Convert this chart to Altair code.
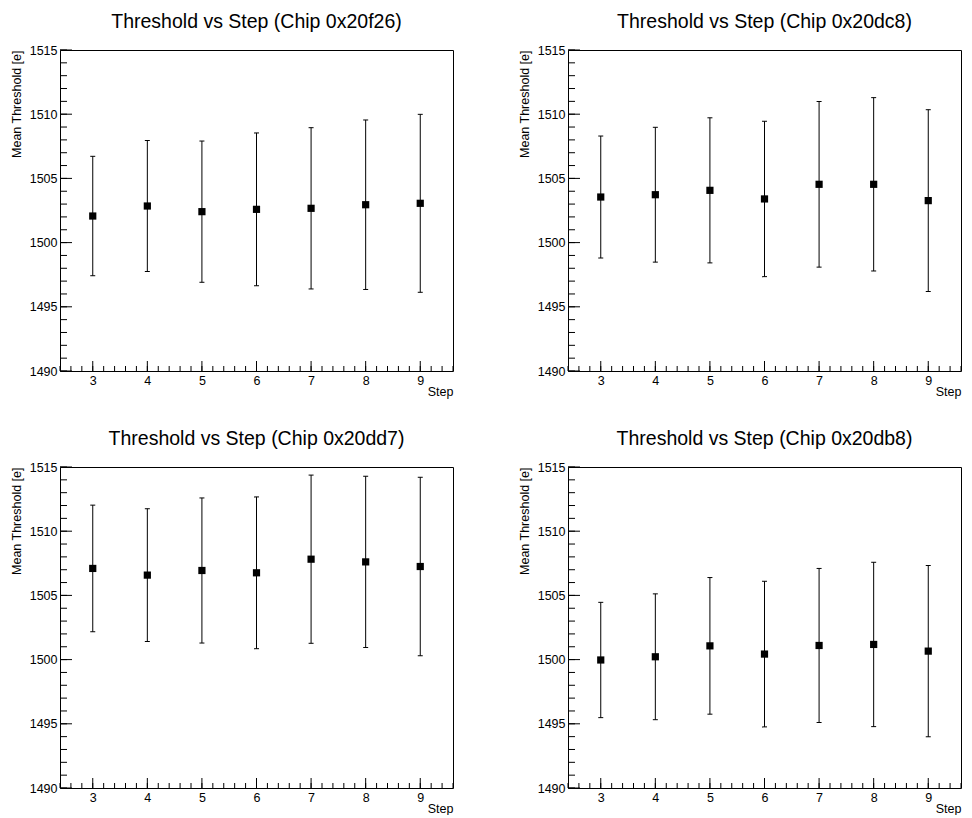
import altair as alt
import pandas as pd

steps = [3, 4, 5, 6, 7, 8, 9]
chips = ["0x20f26", "0x20dc8", "0x20dd7", "0x20db8"]

mean_20f26 = [1502.07, 1502.85, 1502.41, 1502.59, 1502.67, 1502.95, 1503.06]
err_20f26 = [4.65, 5.10, 5.50, 5.95, 6.28, 6.60, 6.93]

mean_20dc8 = [1503.55, 1503.73, 1504.07, 1503.40, 1504.54, 1504.54, 1503.27]
err_20dc8 = [4.75, 5.25, 5.65, 6.05, 6.45, 6.75, 7.08]

mean_20dd7 = [1507.10, 1506.58, 1506.94, 1506.76, 1507.82, 1507.61, 1507.25]
err_20dd7 = [4.93, 5.17, 5.65, 5.91, 6.55, 6.67, 6.95]

mean_20db8 = [1499.97, 1500.22, 1501.07, 1500.43, 1501.10, 1501.18, 1500.66]
err_20db8 = [4.49, 4.90, 5.32, 5.67, 6.00, 6.40, 6.67]

y_major = [1490, 1495, 1500, 1505, 1510, 1515]
y_minor = list(range(1490, 1516))
x_major = steps
x_minor = [round(2.4 + 0.2 * i, 1) for i in range(37)]

FONT = "Liberation Sans"
W, H = 393, 321


def panel(chip, mean, err):
    df = pd.DataFrame({"step": steps, "mean": mean, "err": err})
    df["lo"] = df["mean"] - df["err"]
    df["hi"] = df["mean"] + df["err"]
    xs = alt.Scale(domain=[2.4, 9.6], nice=False, zero=False)
    ys = alt.Scale(domain=[1490, 1515], nice=False, zero=False)

    xaxis = alt.Axis(values=x_major, format="d", title="Step", ticks=False, tickSize=0,
                     domain=False, grid=False, labelFontSize=12.5, labelFont=FONT,
                     labelColor="black", labelPadding=3, titleFont=FONT, titleFontSize=12.5,
                     titleFontWeight="normal", titleColor="black", titleX=W, titleY=24,
                     titleAlign="right", titleBaseline="alphabetic", titleAnchor="end")
    yaxis = alt.Axis(values=y_major, format="d", title="Mean Threshold [e]", ticks=False,
                     tickSize=0, domain=False, grid=False, labelFontSize=12.5, labelFont=FONT,
                     labelColor="black", labelPadding=3, titleFont=FONT, titleFontSize=12.5,
                     titleFontWeight="normal", titleColor="black", titleX=-40, titleY=0,
                     titleAngle=-90, titleAlign="right", titleBaseline="alphabetic")

    base = alt.Chart(df)
    bars = base.mark_rule(color="black", strokeWidth=1).encode(
        x=alt.X("step:Q", scale=xs, axis=xaxis),
        y=alt.Y("lo:Q", scale=ys, axis=yaxis),
        y2="hi:Q",
    )
    cap_lo = base.mark_tick(orient="horizontal", size=5, thickness=1, color="black", opacity=1).encode(
        x=alt.X("step:Q", scale=xs), y=alt.Y("lo:Q", scale=ys))
    cap_hi = base.mark_tick(orient="horizontal", size=5, thickness=1, color="black", opacity=1).encode(
        x=alt.X("step:Q", scale=xs), y=alt.Y("hi:Q", scale=ys))
    pts = base.mark_square(size=52, color="black", opacity=1).encode(
        x=alt.X("step:Q", scale=xs), y=alt.Y("mean:Q", scale=ys))

    ymaj = alt.Chart(pd.DataFrame({"v": y_major})).mark_rule(color="black", strokeWidth=1).encode(
        y=alt.Y("v:Q", scale=ys), x=alt.value(0), x2=alt.value(12))
    ymin = alt.Chart(pd.DataFrame({"v": y_minor})).mark_rule(color="black", strokeWidth=1).encode(
        y=alt.Y("v:Q", scale=ys), x=alt.value(0), x2=alt.value(7))
    xmaj = alt.Chart(pd.DataFrame({"v": x_major})).mark_rule(color="black", strokeWidth=1).encode(
        x=alt.X("v:Q", scale=xs), y=alt.value(H), y2=alt.value(H - 10))
    xmin = alt.Chart(pd.DataFrame({"v": x_minor})).mark_rule(color="black", strokeWidth=1).encode(
        x=alt.X("v:Q", scale=xs), y=alt.value(H), y2=alt.value(H - 5))

    return alt.layer(bars, ymin, ymaj, xmin, xmaj, cap_lo, cap_hi, pts).properties(
        width=W, height=H,
        title=alt.TitleParams(text=f"Threshold vs Step (Chip {chip})", font=FONT, fontSize=19.5,
                              fontWeight="normal", color="black", anchor="middle",
                              frame="group", baseline="alphabetic", offset=-3),
    )


charts = [panel(c, m, e) for c, m, e in zip(
    chips, [mean_20f26, mean_20dc8, mean_20dd7, mean_20db8],
    [err_20f26, err_20dc8, err_20dd7, err_20db8])]

chart = alt.concat(*charts, columns=2, spacing={"row": 96, "column": 115}, bounds="flush").properties(
    padding={"left": 1, "top": 3, "right": 0, "bottom": 0},
    background="white",
).configure_view(stroke="black", strokeWidth=1)

chart.save("out.html", embed_options={"renderer": "svg", "actions": False})
